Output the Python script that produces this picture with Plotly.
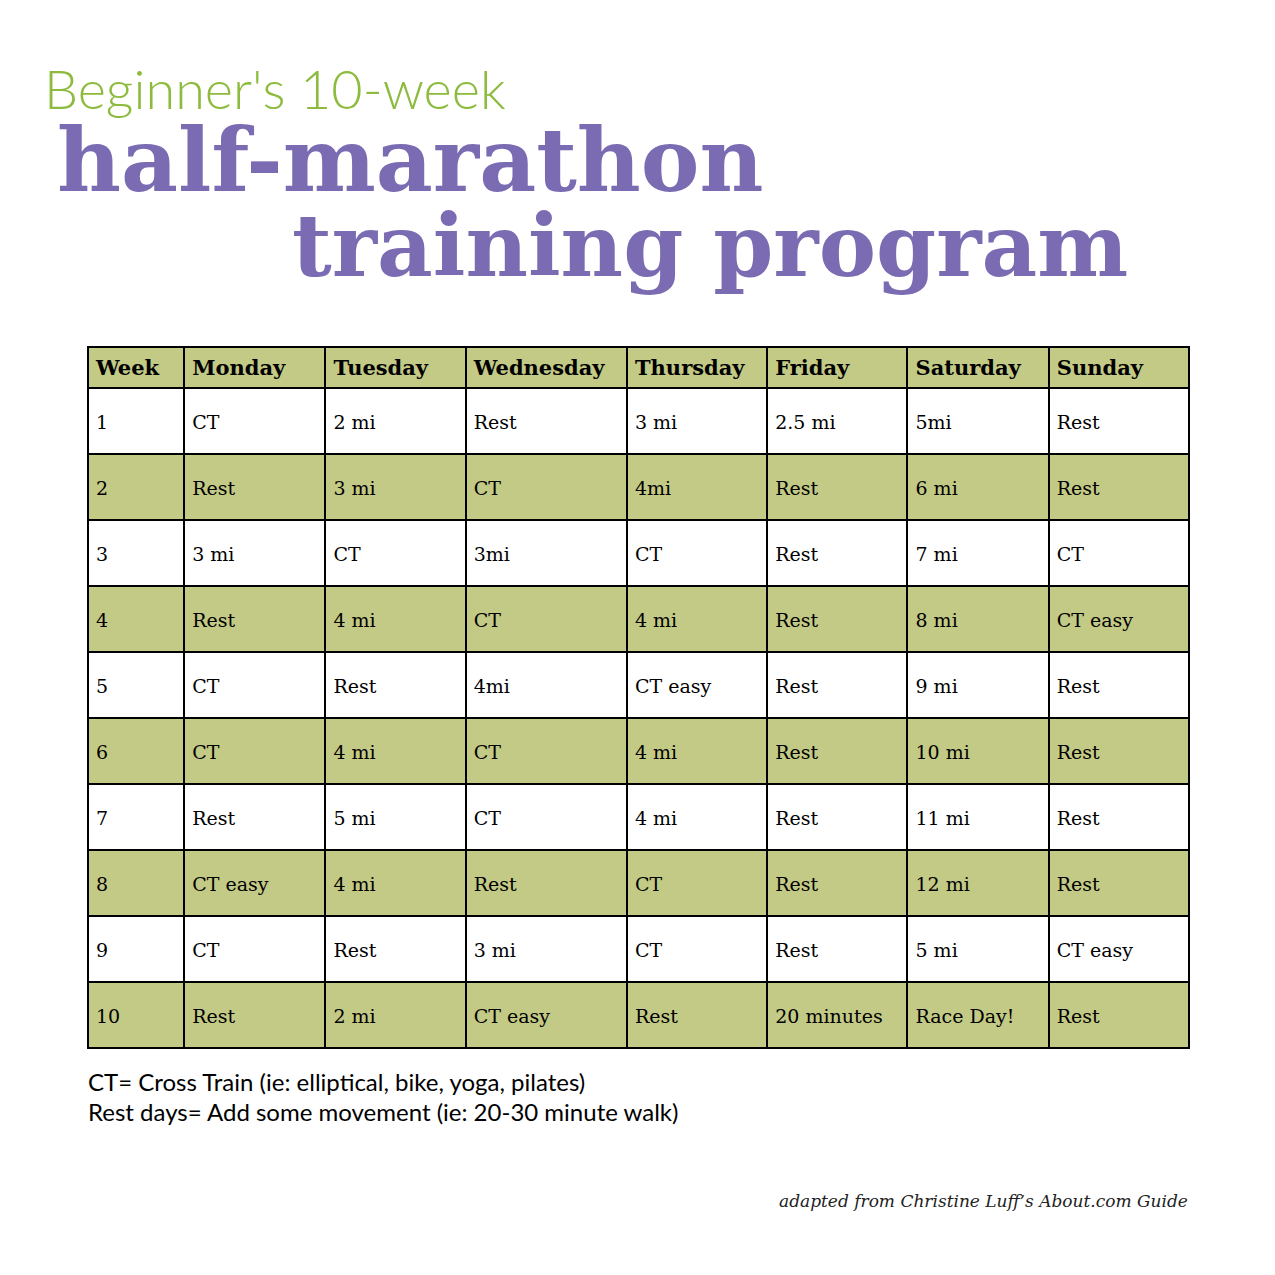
import plotly.graph_objects as go

headers = ["Week", "Monday", "Tuesday", "Wednesday", "Thursday", "Friday", "Saturday", "Sunday"]
weeks = ["1", "2", "3", "4", "5", "6", "7", "8", "9", "10"]
monday = ["CT", "Rest", "3 mi", "Rest", "CT", "CT", "Rest", "CT easy", "CT", "Rest"]
tuesday = ["2 mi", "3 mi", "CT", "4 mi", "Rest", "4 mi", "5 mi", "4 mi", "Rest", "2 mi"]
wednesday = ["Rest", "CT", "3mi", "CT", "4mi", "CT", "CT", "Rest", "3 mi", "CT easy"]
thursday = ["3 mi", "4mi", "CT", "4 mi", "CT easy", "4 mi", "4 mi", "CT", "CT", "Rest"]
friday = ["2.5 mi", "Rest", "Rest", "Rest", "Rest", "Rest", "Rest", "Rest", "Rest", "20 minutes"]
saturday = ["5mi", "6 mi", "7 mi", "8 mi", "9 mi", "10 mi", "11 mi", "12 mi", "5 mi", "Race Day!"]
sunday = ["Rest", "Rest", "CT", "CT easy", "Rest", "Rest", "Rest", "Rest", "CT easy", "Rest"]

W = 1275
OFF = 8  # page offset of the plot in the browser
GREEN = "#c3ca85"
PURPLE = "#7a6bb2"
LIME = "#8dbb3e"

col_w = [96, 141, 140, 161, 140, 140, 141, 140]
row_fill = ["white" if i % 2 == 0 else GREEN for i in range(len(weeks))]
pad = "<span style='font-size:9px'> </span><br>"
columns = [weeks, monday, tuesday, wednesday, thursday, friday, saturday, sunday]
cell_vals = [[pad + v for v in col] for col in columns]

fig = go.Figure(go.Table(
    domain=dict(x=[(88 - OFF) / W, (1189 - OFF) / W], y=[0, 1 - (347 - OFF) / W]),
    columnwidth=col_w,
    header=dict(
        values=["<b>%s</b>" % h for h in headers],
        fill_color=GREEN, line=dict(color="black", width=2),
        align="left", height=39,
        font=dict(family="DejaVu Serif", size=21, color="black"),
    ),
    cells=dict(
        values=cell_vals,
        fill_color=[row_fill] * 8, line=dict(color="black", width=2),
        align="left", height=66,
        font=dict(family="DejaVu Serif", size=19, color="black"),
    ),
))

ann = [
    dict(x=42, y=88, text="Beginner's 10-week", font=dict(family="Lato Light, Lato", size=54, color=LIME)),
    dict(x=55, y=160, text="<b>half-marathon</b>", font=dict(family="DejaVu Serif", size=88, color=PURPLE)),
    dict(x=290, y=245, text="<b>training program</b>", font=dict(family="DejaVu Serif", size=86, color=PURPLE)),
    dict(x=86, y=1081, text="CT= Cross Train (ie: elliptical, bike, yoga, pilates)", font=dict(family="Lato", size=24, color="black")),
    dict(x=86, y=1111, text="Rest days= Add some movement (ie: 20-30 minute walk)", font=dict(family="Lato", size=24, color="black")),
]
annotations = [dict(xref="paper", yref="paper", x=(a["x"] - OFF) / W, y=1 - (a["y"] - OFF) / W, text=a["text"],
                    font=a["font"], showarrow=False, xanchor="left", yanchor="middle") for a in ann]
annotations.append(dict(xref="paper", yref="paper", x=(1190 - OFF) / W, y=1 - (1201 - OFF) / W,
                        text="<i>adapted from Christine Luff’s About.com Guide</i>",
                        font=dict(family="DejaVu Serif", size=17, color="#222"),
                        showarrow=False, xanchor="right", yanchor="middle"))

fig.update_layout(width=W, height=W, margin=dict(l=0, r=0, t=0, b=0),
                  paper_bgcolor="white", annotations=annotations)
fig.write_html("out.html")
